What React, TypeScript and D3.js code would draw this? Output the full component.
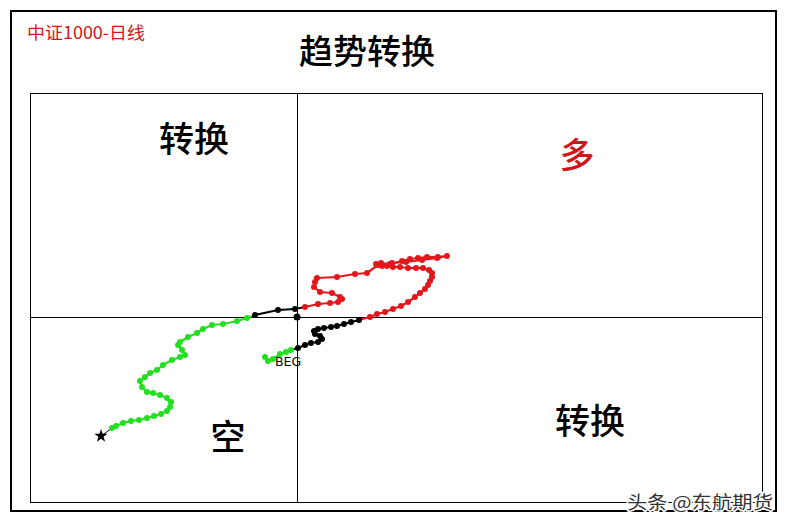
import React from "react";
import * as d3 from "d3";

// trajectory segments, in order from BEG to the star
const greenStart: [number, number][] = [
  [-3.2, -4.0], [-2.9, -4.4], [-2.4, -4.2], [-1.7, -3.7], [-1.1, -3.5], [-0.6, -3.3],
];
const blackUp: [number, number][] = [
  [0.1, -3.1], [0.8, -2.8], [1.4, -2.6], [2.1, -2.5], [2.5, -2.2], [2.3, -1.9], [1.8, -1.7],
  [1.7, -1.4], [2.1, -1.2], [2.7, -1.1], [3.4, -1.0], [4.0, -0.9], [4.7, -0.7], [5.4, -0.5], [6.2, -0.3],
];
const redLoop: [number, number][] = [
  [7.3, 0], [8.0, 0.3], [8.8, 0.5], [9.6, 0.8], [10.4, 1.1], [11.1, 1.5], [11.8, 2.0], [12.3, 2.4],
  [12.8, 2.8], [13.1, 3.2], [13.3, 3.6], [13.5, 4.0], [13.5, 4.4], [13.2, 4.7], [12.6, 4.9], [11.9, 4.9],
  [11.1, 4.9], [10.3, 5.0], [9.6, 5.0], [9.0, 5.1], [8.5, 5.1], [7.9, 5.3], [8.4, 5.4], [9.3, 5.3],
  [10.5, 5.6], [11.3, 5.8], [12.1, 5.9], [13.0, 6.0], [14.1, 6.0], [15.0, 6.1], [14.0, 5.9], [12.5, 5.7],
  [10.9, 5.5], [9.5, 5.4], [8.1, 5.2], [7.0, 4.4], [5.8, 4.3], [4.0, 4.0], [2.0, 3.9], [1.8, 3.5],
  [1.7, 3.0], [2.3, 2.5], [3.5, 2.4], [4.3, 2.0], [4.5, 1.8], [4.1, 1.5], [3.3, 1.4], [2.1, 1.3], [0.8, 1.0],
];
const blackDown: [number, number][] = [
  [-0.2, 0.8], [-1.9, 0.7], [-4.2, 0.2],
];
const greenTail: [number, number][] = [
  [-5.0, -0.1], [-6.0, -0.4], [-7.4, -0.7], [-8.5, -0.8], [-9.4, -1.2], [-10.0, -1.6], [-10.9, -2.0],
  [-11.7, -2.5], [-11.9, -2.8], [-11.5, -3.3], [-11.2, -3.8], [-11.7, -4.0], [-12.5, -4.3], [-13.4, -4.8],
  [-14.0, -5.3], [-14.7, -5.6], [-15.2, -6.0], [-15.7, -6.4], [-15.5, -7.0], [-15.0, -7.5], [-14.4, -7.6],
  [-13.7, -7.8], [-13.0, -8.1], [-12.6, -8.5], [-12.7, -9.0], [-13.0, -9.4], [-13.6, -9.7], [-14.3, -9.9],
  [-15.0, -10.1], [-15.8, -10.3], [-16.6, -10.4], [-17.4, -10.6], [-18.1, -10.9], [-18.5, -11.1],
];
const starPoint: [number, number] = [-19.6, -11.9];
const origin: [number, number] = [0, 0];

const title = "趋势转换";
const subtitle = "中证1000-日线";
const quadLabels = ["转换", "多", "空", "转换"];
const watermark = "头条 @东航期货";

const W = 787;
const H = 525;
const plot = { left: 30, top: 93, right: 762, bottom: 502 };

const colors: Record<string, string> = { g: "#22e01e", k: "#000000", r: "#e3161b" };

export default function App() {
  const x = d3.scaleLinear().domain([-26.7, 46.5]).range([plot.left, plot.right]);
  const y = d3.scaleLinear().domain([-18.5, 22.4]).range([plot.bottom, plot.top]);

  const pts: { p: [number, number]; s: string }[] = [
    ...greenStart.map((p) => ({ p, s: "g" })),
    ...blackUp.map((p) => ({ p, s: "k" })),
    ...redLoop.map((p) => ({ p, s: "r" })),
    ...blackDown.map((p) => ({ p, s: "k" })),
    ...greenTail.map((p) => ({ p, s: "g" })),
  ];

  const segs = pts.slice(1).map((d, i) => ({ a: pts[i].p, b: d.p, s: d.s }));
  const last = pts[pts.length - 1].p;
  const star = d3.symbol().type(d3.symbolStar).size(55)();
  const font = "'Noto Sans CJK SC', 'Noto Sans', sans-serif";
  const cx = Math.round(x(0)) + 0.5;
  const cy = Math.round(y(0)) + 0.5;

  return (
    <svg width={W} height={H} style={{ position: "absolute", left: 0, top: 0, background: "#fff" }}>
      <rect x={11} y={11} width={765} height={500} fill="#fff" stroke="#000" strokeWidth={2} />
      <text x={27} y={39} fontSize={17} textLength={118} lengthAdjust="spacingAndGlyphs" fill="#d0161b" fontFamily={font}>{subtitle}</text>
      <text x={367} y={64} fontSize={34} fontWeight={500} textAnchor="middle" fontFamily={font} fill="#000">{title}</text>
      <rect x={plot.left + 0.5} y={plot.top + 0.5} width={plot.right - plot.left} height={plot.bottom - plot.top}
        fill="none" stroke="#000" strokeWidth={1} />
      <line x1={cx} x2={cx} y1={plot.top} y2={plot.bottom} stroke="#000" strokeWidth={1} />
      <line x1={plot.left} x2={plot.right} y1={cy} y2={cy} stroke="#000" strokeWidth={1} />

      <text x={194} y={152} fontSize={35} fontWeight={500} textAnchor="middle" fontFamily={font}>{quadLabels[0]}</text>
      <text x={577} y={168} fontSize={35} fontWeight={500} textAnchor="middle" fontFamily={font} fill="#d0161b">{quadLabels[1]}</text>
      <text x={228} y={450} fontSize={35} fontWeight={500} textAnchor="middle" fontFamily={font}>{quadLabels[2]}</text>
      <text x={590} y={434} fontSize={35} fontWeight={500} textAnchor="middle" fontFamily={font}>{quadLabels[3]}</text>

      <line x1={x(last[0])} y1={y(last[1])} x2={x(starPoint[0])} y2={y(starPoint[1])} stroke="#000" strokeWidth={1} />
      {segs.map((d, i) => (
        <line key={i} x1={x(d.a[0])} y1={y(d.a[1])} x2={x(d.b[0])} y2={y(d.b[1])}
          stroke={colors[d.s]} strokeWidth={2.2} />
      ))}
      {pts.map((d, i) => (
        <circle key={i} cx={x(d.p[0])} cy={y(d.p[1])} r={3} fill={colors[d.s]} />
      ))}
      <circle cx={x(origin[0])} cy={y(origin[1])} r={3.5} fill="#000" />
      <path d={star ?? ""} transform={`translate(${x(starPoint[0])},${y(starPoint[1])})`} fill="#000" />
      <text x={x(greenStart[0][0]) + 10} y={y(greenStart[0][1]) + 9} fontSize={12.5} fontFamily="'DejaVu Sans', sans-serif">BEG</text>

      <text x={627} y={509} fontSize={18} textLength={146} lengthAdjust="spacingAndGlyphs" fontFamily={font} fill="#333"
        stroke="#fff" strokeWidth={3} paintOrder="stroke">{watermark}</text>
    </svg>
  );
}
